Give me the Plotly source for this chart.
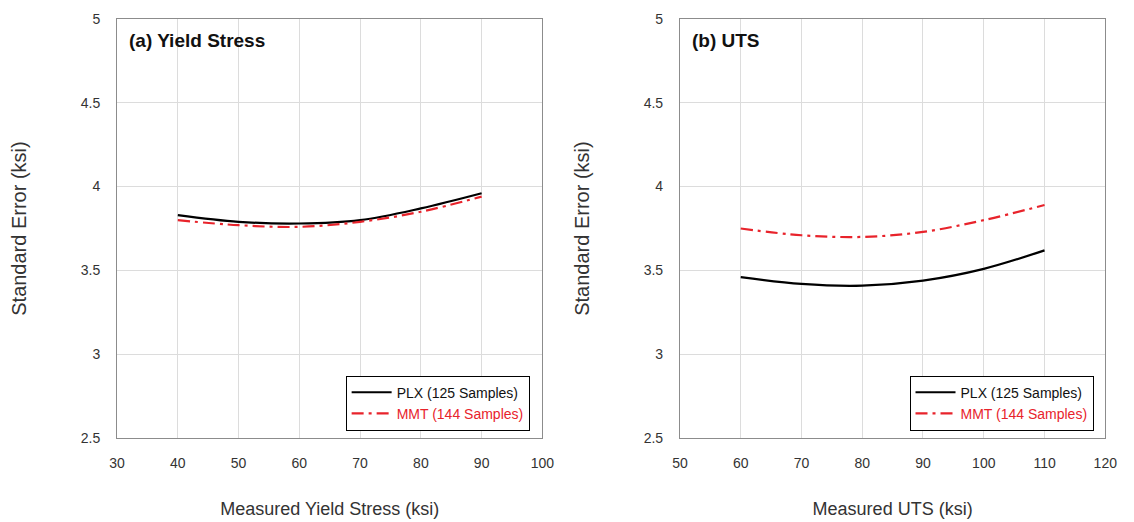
import plotly.graph_objects as go

# Panel (a) Yield Stress
ys_x = [40, 50, 60, 70, 80, 90]
ys_plx = [3.83, 3.79, 3.78, 3.80, 3.87, 3.96]
ys_mmt = [3.80, 3.77, 3.76, 3.79, 3.85, 3.94]

# Panel (b) UTS
uts_x = [60, 70, 80, 90, 100, 110]
uts_plx = [3.46, 3.42, 3.41, 3.44, 3.51, 3.62]
uts_mmt = [3.75, 3.71, 3.70, 3.73, 3.80, 3.89]

plx_name = "PLX (125 Samples)"
mmt_name = "<span style='color:#e8232b'>MMT (144 Samples)</span>"

W, H = 1134, 522
FONT = "Liberation Sans, Arial, sans-serif"
DASH = "12px,5px,3px,5px"

fig = go.Figure()
fig.add_trace(go.Scatter(x=ys_x, y=ys_plx, mode="lines", name=plx_name,
                         line=dict(color="black", width=2.2, shape="spline"),
                         xaxis="x", yaxis="y", legend="legend"))
fig.add_trace(go.Scatter(x=ys_x, y=ys_mmt, mode="lines", name=mmt_name,
                         line=dict(color="#e8232b", width=2.2, shape="spline", dash=DASH),
                         xaxis="x", yaxis="y", legend="legend"))
fig.add_trace(go.Scatter(x=uts_x, y=uts_plx, mode="lines", name=plx_name,
                         line=dict(color="black", width=2.2, shape="spline"),
                         xaxis="x2", yaxis="y2", legend="legend2"))
fig.add_trace(go.Scatter(x=uts_x, y=uts_mmt, mode="lines", name=mmt_name,
                         line=dict(color="#e8232b", width=2.2, shape="spline", dash=DASH),
                         xaxis="x2", yaxis="y2", legend="legend2"))

ytop = 1 - 11 / H
ybot = 1 - 444 / H

axis_common = dict(showgrid=True, gridcolor="#dcdcdc", gridwidth=1,
                   showline=True, linecolor="#8c8c8c", linewidth=1, mirror=True,
                   zeroline=False, ticks="", tickfont=dict(size=14, color="#333333", family=FONT))

xtitle_font = dict(size=18, color="#333333", family=FONT)
ytitle_font = dict(size=20, color="#333333", family=FONT)

legend_common = dict(bordercolor="black", borderwidth=1, bgcolor="white",
                     font=dict(size=14, color="#111111", family=FONT),
                     tracegroupgap=0, itemwidth=40)

fig.update_layout(
    width=W, height=H,
    margin=dict(l=0, r=0, t=0, b=0),
    paper_bgcolor="white", plot_bgcolor="white",
    font=dict(family=FONT),
    xaxis=dict(domain=[111 / W, 544 / W], range=[30, 100], dtick=10, anchor="y",
               ticklabelstandoff=12,
               title=dict(text="Measured Yield Stress (ksi)", standoff=32, font=xtitle_font), **axis_common),
    yaxis=dict(domain=[ybot, ytop], range=[2.5, 5], dtick=0.5, anchor="x",
               ticklabelstandoff=13,
               title=dict(text="Standard Error (ksi)", standoff=48, font=ytitle_font), **axis_common),
    xaxis2=dict(domain=[684 / W, 1117 / W], range=[50, 120], dtick=10, anchor="y2",
                ticklabelstandoff=12,
                title=dict(text="Measured UTS (ksi)", standoff=32, font=xtitle_font), **axis_common),
    yaxis2=dict(domain=[ybot, ytop], range=[2.5, 5], dtick=0.5, anchor="x2",
                ticklabelstandoff=13,
                title=dict(text="Standard Error (ksi)", standoff=48, font=ytitle_font), **axis_common),
    legend=dict(x=531 / W, y=1 - 436 / H, xanchor="right", yanchor="bottom", **legend_common),
    legend2=dict(x=1105 / W, y=1 - 436 / H, xanchor="right", yanchor="bottom", **legend_common),
    showlegend=True,
    annotations=[
        dict(text="<b>(a) Yield Stress</b>", xref="x domain", yref="y domain", x=0.024, y=0.949,
             xanchor="left", yanchor="middle", showarrow=False, font=dict(size=19, color="#111111", family=FONT)),
        dict(text="<b>(b) UTS</b>", xref="x2 domain", yref="y2 domain", x=0.024, y=0.949,
             xanchor="left", yanchor="middle", showarrow=False, font=dict(size=19, color="#111111", family=FONT)),
    ],
)

fig.write_html("out.html")
